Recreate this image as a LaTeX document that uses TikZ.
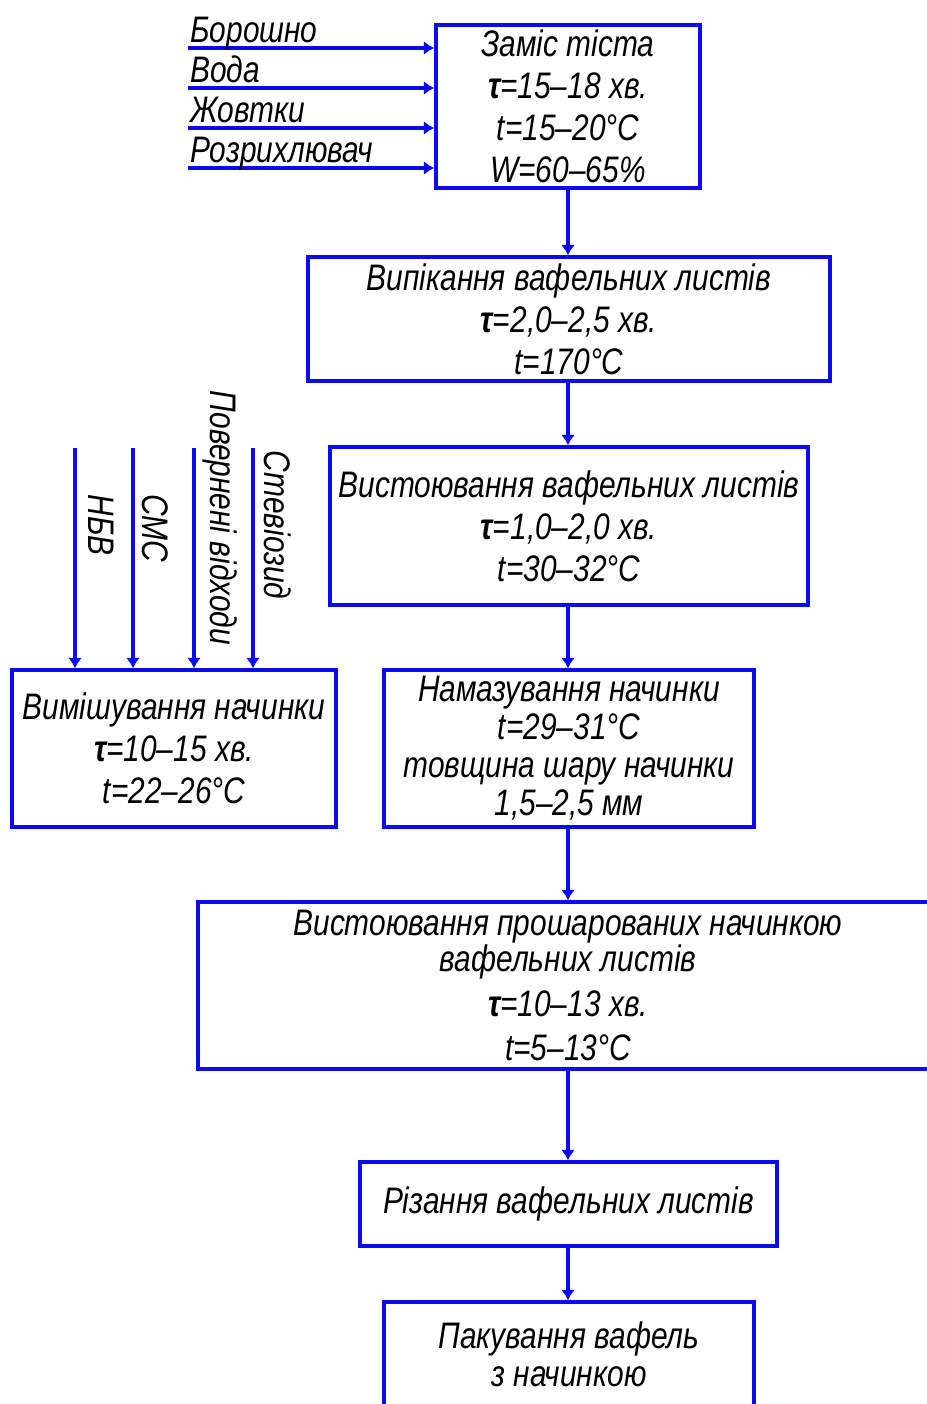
\documentclass[tikz,border=0pt]{standalone}
\usepackage{fontspec}
\setmainfont{Liberation Sans}[FakeStretch=0.81]
\usepackage{tikz}
\usetikzlibrary{arrows.meta}
\usetikzlibrary{backgrounds,positioning}
\pgfdeclarelayer{edgelayer}
\pgfdeclarelayer{nodelayer}
\pgfsetlayers{background,edgelayer,nodelayer,main}
\definecolor{lineblue}{RGB}{10,10,240}
\tikzstyle{none}=[inner sep=0mm]
\tikzstyle{txt}=[inner sep=0mm,font=\fontsize{21}{24}\selectfont\itshape]
\tikzstyle{tight}=[font=\fontsize{21}{21.6}\selectfont\itshape]
\tikzstyle{proc}=[txt,draw=lineblue,line width=1.9pt,align=center,fill=white]
\tikzstyle{flow}=[draw=lineblue,line width=1.9pt,-{Latex[length=6pt,width=8pt]}]
\tikzstyle{vlabel}=[txt,rotate=-90]

\begin{document}
\begin{tikzpicture}
	\useasboundingbox (0,0) rectangle (18.54,-28.08);
	\begin{pgfonlayer}{nodelayer}
		\node [style=proc,minimum width=5.28cm,minimum height=3.26cm] (kneed) at (11.36,-2.13) {Заміс тіста\\\textbf{τ}=15–18 хв.\\t=15–20°C\\W=60–65\%};
		\node [style=proc,minimum width=10.44cm,minimum height=2.48cm] (bake) at (11.38,-6.38) {Випікання вафельних листів\\\textbf{τ}=2,0–2,5 хв.\\t=170°C};
		\node [style=proc,minimum width=9.56cm,minimum height=3.16cm] (rest) at (11.38,-10.52) {Вистоювання вафельних листів\\\textbf{τ}=1,0–2,0 хв.\\t=30–32°C};
		\node [style=proc,style=tight,minimum width=7.40cm,minimum height=3.14cm] (spread) at (11.38,-14.97) {Намазування начинки\\t=29–31°C\\товщина шару начинки\\1,5–2,5 мм};
		\node [style=proc,font=\fontsize{21}{20.5}\selectfont\itshape,minimum width=14.80cm,minimum height=3.34cm] (cool) at (11.36,-19.71) {Вистоювання прошарованих начинкою\\вафельних листів\\[5pt]\textbf{τ}=10–13 хв.\\[5pt]t=5–13°C};
		\node [style=proc,minimum width=8.34cm,minimum height=1.68cm] (cut) at (11.37,-24.08) {Різання вафельних листів};
		\node [style=proc,style=tight,minimum width=7.40cm,minimum height=2.08cm] (pack) at (11.38,-27.08) {Пакування вафель\\з начинкою};
		\node [style=proc,minimum width=6.48cm,minimum height=3.14cm] (mix) at (3.48,-14.97) {Вимішування начинки\\\textbf{τ}=10–15 хв.\\t=22–26°C};
		% inputs of the dough
		\coordinate (flour) at (3.76,-0.96);
		\coordinate (water) at (3.76,-1.76);
		\coordinate (yolks) at (3.76,-2.56);
		\coordinate (leaven) at (3.76,-3.36);
		\node [style=txt,anchor=base west] (lflour) at (3.80,-0.84) {Борошно};
		\node [style=txt,anchor=base west] (lwater) at (3.80,-1.64) {Вода};
		\node [style=txt,anchor=base west] (lyolks) at (3.80,-2.44) {Жовтки};
		\node [style=txt,anchor=base west] (lleaven) at (3.80,-3.24) {Розрихлювач};
		% inputs of the filling
		\coordinate (fat) at (1.50,-8.96);
		\coordinate (sms) at (2.66,-8.96);
		\coordinate (waste) at (3.88,-8.96);
		\coordinate (stevia) at (5.06,-8.96);
		\node [style=vlabel] (lfat) at (2.02,-10.50) {НБВ};
		\node [style=vlabel] (lsms) at (3.10,-10.56) {СМС};
		\node [style=vlabel] (lwaste) at (4.40,-10.36) {Повернені відходи};
		\node [style=vlabel] (lstevia) at (5.56,-10.50) {Стевіозид};
	\end{pgfonlayer}
	\begin{pgfonlayer}{edgelayer}
		\draw [style=flow] (flour) -- (flour -| kneed.west);
		\draw [style=flow] (water) -- (water -| kneed.west);
		\draw [style=flow] (yolks) -- (yolks -| kneed.west);
		\draw [style=flow] (leaven) -- (leaven -| kneed.west);
		\draw [style=flow] (fat) -- (fat |- mix.north);
		\draw [style=flow] (sms) -- (sms |- mix.north);
		\draw [style=flow] (waste) -- (waste |- mix.north);
		\draw [style=flow] (stevia) -- (stevia |- mix.north);
		\draw [style=flow] (kneed.south) -- (kneed.south |- bake.north);
		\draw [style=flow] (bake.south -| kneed.south) -- (kneed.south |- rest.north);
		\draw [style=flow] (rest.south -| kneed.south) -- (kneed.south |- spread.north);
		\draw [style=flow] (spread.south -| kneed.south) -- (kneed.south |- cool.north);
		\draw [style=flow] (cool.south -| kneed.south) -- (kneed.south |- cut.north);
		\draw [style=flow] (cut.south -| kneed.south) -- (kneed.south |- pack.north);
	\end{pgfonlayer}
\end{tikzpicture}
\end{document}
